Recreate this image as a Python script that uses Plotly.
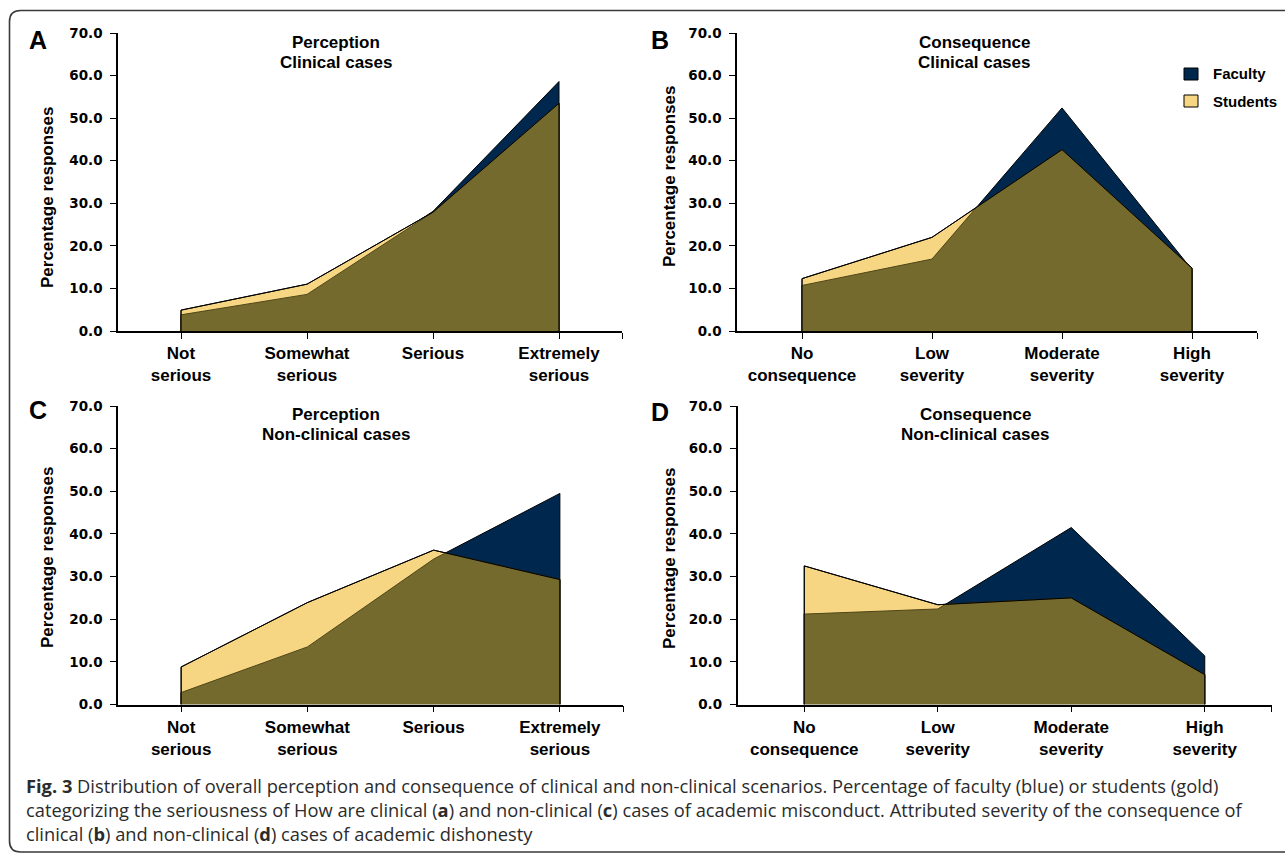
import plotly.graph_objects as go

# ---------------- data ----------------
perception_labels = ["Not<br>serious", "Somewhat<br>serious", "Serious", "Extremely<br>serious"]
consequence_labels = ["No<br>consequence", "Low<br>severity", "Moderate<br>severity", "High<br>severity"]

a_faculty = [3.8, 8.6, 28.1, 58.6]
a_students = [4.9, 11.0, 27.9, 53.5]

b_faculty = [10.7, 16.9, 52.4, 14.4]
b_students = [12.3, 22.0, 42.6, 14.8]

c_faculty = [2.8, 13.5, 34.1, 49.5]
c_students = [8.8, 23.9, 36.2, 29.3]

d_faculty = [21.2, 22.4, 41.5, 11.4]
d_students = [32.5, 23.4, 25.0, 7.0]

y_ticks = [0, 10, 20, 30, 40, 50, 60, 70]

# ---------------- style ----------------
W, H = 1285, 854
NAVY = "#00284F"
GOLD = "#F6D683"
OLIVE = "#756A2D"
OLIVE_EDGE = "#4f4619"
FONT = "Liberation Sans, Arial, sans-serif"


def px(x):
    return x / W


def py(y):
    return 1 - y / H


panels = [
    dict(fac=a_faculty, stu=a_students, cats=perception_labels,
         xdom=(118, 622), ydom=(331, 33), letter="A", lpos=(38, 40),
         t1="Perception", t2="Clinical cases", tx=336, ty=(43, 63),
         ytitle=(47, 198)),
    dict(fac=b_faculty, stu=b_students, cats=consequence_labels,
         xdom=(737, 1257), ydom=(331, 33), letter="B", lpos=(660, 40),
         t1="Consequence", t2="Clinical cases", tx=974, ty=(43, 63),
         ytitle=(669, 177)),
    dict(fac=c_faculty, stu=c_students, cats=perception_labels,
         xdom=(118, 623), ydom=(704.5, 406), letter="C", lpos=(38, 410),
         t1="Perception", t2="Non-clinical cases", tx=336, ty=(414, 434),
         ytitle=(47, 558)),
    dict(fac=d_faculty, stu=d_students, cats=consequence_labels,
         xdom=(737.5, 1271.5), ydom=(704.5, 406), letter="D", lpos=(660, 412),
         t1="Consequence", t2="Non-clinical cases", tx=975, ty=(414, 434),
         ytitle=(669, 559)),
]


def min_envelope(fac, stu):
    xs, ys = [], []
    n = len(fac)
    for i in range(n):
        xs.append(i)
        ys.append(min(fac[i], stu[i]))
        if i < n - 1:
            d0 = fac[i] - stu[i]
            d1 = fac[i + 1] - stu[i + 1]
            if d0 * d1 < 0:
                t = d0 / (d0 - d1)
                xs.append(i + t)
                ys.append(fac[i] + t * (fac[i + 1] - fac[i]))
    return xs, ys


fig = go.Figure()
annotations = []
shapes = []

for k, p in enumerate(panels):
    idx = "" if k == 0 else str(k + 1)
    xa, ya = "x" + idx, "y" + idx
    cats_x = list(range(len(p["fac"])))
    last = cats_x[-1]

    # faculty area
    fig.add_trace(go.Scatter(
        x=[0] + cats_x + [last], y=[0] + p["fac"] + [0],
        fill="toself", fillcolor=NAVY, mode="lines",
        line=dict(color="black", width=1), xaxis=xa, yaxis=ya,
        hoverinfo="skip", showlegend=False))
    # students area
    fig.add_trace(go.Scatter(
        x=[0] + cats_x + [last], y=[0] + p["stu"] + [0],
        fill="toself", fillcolor=GOLD, mode="lines",
        line=dict(color="black", width=1), xaxis=xa, yaxis=ya,
        hoverinfo="skip", showlegend=False))
    # overlap area
    mx, my = min_envelope(p["fac"], p["stu"])
    fig.add_trace(go.Scatter(
        x=[0] + mx + [last], y=[0] + my + [0],
        fill="toself", fillcolor=OLIVE, mode="lines",
        line=dict(color=OLIVE_EDGE, width=1), xaxis=xa, yaxis=ya,
        hoverinfo="skip", showlegend=False))
    # students outline on top
    fig.add_trace(go.Scatter(
        x=[0] + cats_x + [last], y=[0] + p["stu"] + [0],
        mode="lines", line=dict(color="black", width=1), xaxis=xa, yaxis=ya,
        hoverinfo="skip", showlegend=False))

    x0, x1 = p["xdom"]
    yb, yt = p["ydom"]
    fig.layout["xaxis" + idx] = dict(
        domain=[px(x0), px(x1)], anchor=ya, range=[-0.5, len(cats_x) - 0.5],
        tickvals=cats_x + [len(cats_x) - 0.5], ticktext=p["cats"] + [""],
        ticks="outside", ticklen=6, tickwidth=1.3, tickcolor="black",
        showline=True, linecolor="black", linewidth=1.5, automargin=False,
        showgrid=False, zeroline=False, fixedrange=True,
        tickfont=dict(family=FONT, size=17, color="black", weight="bold"))
    fig.layout["yaxis" + idx] = dict(
        domain=[py(yb), py(yt)], anchor=xa, range=[0, 70],
        tickvals=y_ticks, tickformat=".1f",
        ticks="outside", ticklen=6, tickwidth=1.3, tickcolor="black",
        ticklabelstandoff=5, automargin=False,
        showline=True, linecolor="black", linewidth=1.5,
        showgrid=False, zeroline=False, fixedrange=True,
        tickfont=dict(family="DejaVu Sans, sans-serif", size=13.5, color="black", weight="bold"))

    # panel letter
    annotations.append(dict(
        text=p["letter"], x=px(p["lpos"][0]), y=py(p["lpos"][1]), xref="paper", yref="paper",
        showarrow=False, xanchor="center", yanchor="middle",
        font=dict(family=FONT, size=25, color="black", weight="bold")))
    # titles
    for t, yy in zip((p["t1"], p["t2"]), p["ty"]):
        annotations.append(dict(
            text=t, x=px(p["tx"]), y=py(yy), xref="paper", yref="paper",
            showarrow=False, xanchor="center", yanchor="middle",
            font=dict(family=FONT, size=17, color="black", weight="bold")))
    # y-axis title
    annotations.append(dict(
        text="Percentage responses", x=px(p["ytitle"][0]), y=py(p["ytitle"][1]),
        xref="paper", yref="paper", showarrow=False, textangle=-90,
        xanchor="center", yanchor="middle",
        font=dict(family=FONT, size=17, color="black", weight="bold")))

# legend (panel B)
for name, col, yc in (("Faculty", NAVY, 74), ("Students", GOLD, 101)):
    shapes.append(dict(type="rect", xref="paper", yref="paper",
                       x0=px(1184), x1=px(1198), y0=py(yc + 6), y1=py(yc - 6),
                       fillcolor=col, line=dict(color="black", width=1)))
    annotations.append(dict(
        text=name, x=px(1211), y=py(yc), xref="paper", yref="paper",
        showarrow=False, xanchor="left", yanchor="middle",
        font=dict(family=FONT, size=15, color="black", weight="bold")))

# caption
caption_lines = [
    "<b>Fig. 3</b> Distribution of overall perception and consequence of clinical and non-clinical scenarios. Percentage of faculty (blue) or students (gold)",
    "categorizing the seriousness of How are clinical (<b>a</b>) and non-clinical (<b>c</b>) cases of academic misconduct. Attributed severity of the consequence of",
    "clinical (<b>b</b>) and non-clinical (<b>d</b>) cases of academic dishonesty",
]
annotations.append(dict(
    text="<br>".join(caption_lines), x=px(24), y=py(809), xref="paper", yref="paper",
    showarrow=False, xanchor="left", yanchor="middle", align="left",
    font=dict(family="Open Sans, sans-serif", size=18.3, color="#2b2b2b")))

# rounded frame
r = 11
L, T, B, R = 9.5, 10.5, 852, 1300
path = (f"M {px(R)},{py(T)} L {px(L + r)},{py(T)} Q {px(L)},{py(T)} {px(L)},{py(T + r)} "
        f"L {px(L)},{py(B - r)} Q {px(L)},{py(B)} {px(L + r)},{py(B)} L {px(R)},{py(B)}")
shapes.append(dict(type="path", xref="paper", yref="paper", path=path,
                   line=dict(color="#3a3a3a", width=1.6)))

fig.update_layout(
    width=W, height=H, autosize=False,
    margin=dict(l=0, r=0, t=0, b=0, pad=0, autoexpand=False),
    paper_bgcolor="white", plot_bgcolor="white",
    font=dict(family=FONT, color="black"),
    showlegend=False, annotations=annotations, shapes=shapes)

fig.write_html(
    "out.html",
    config={"displayModeBar": False},
    post_script=(
        "document.documentElement.style.margin='0';document.body.style.margin='0';"
        "document.body.style.padding='0';"
        "document.documentElement.style.overflow='hidden';document.body.style.overflow='hidden';"
        "var gd=document.getElementById('{plot_id}');"
        "gd.style.position='fixed';gd.style.left='0px';gd.style.top='0px';"
    ))
